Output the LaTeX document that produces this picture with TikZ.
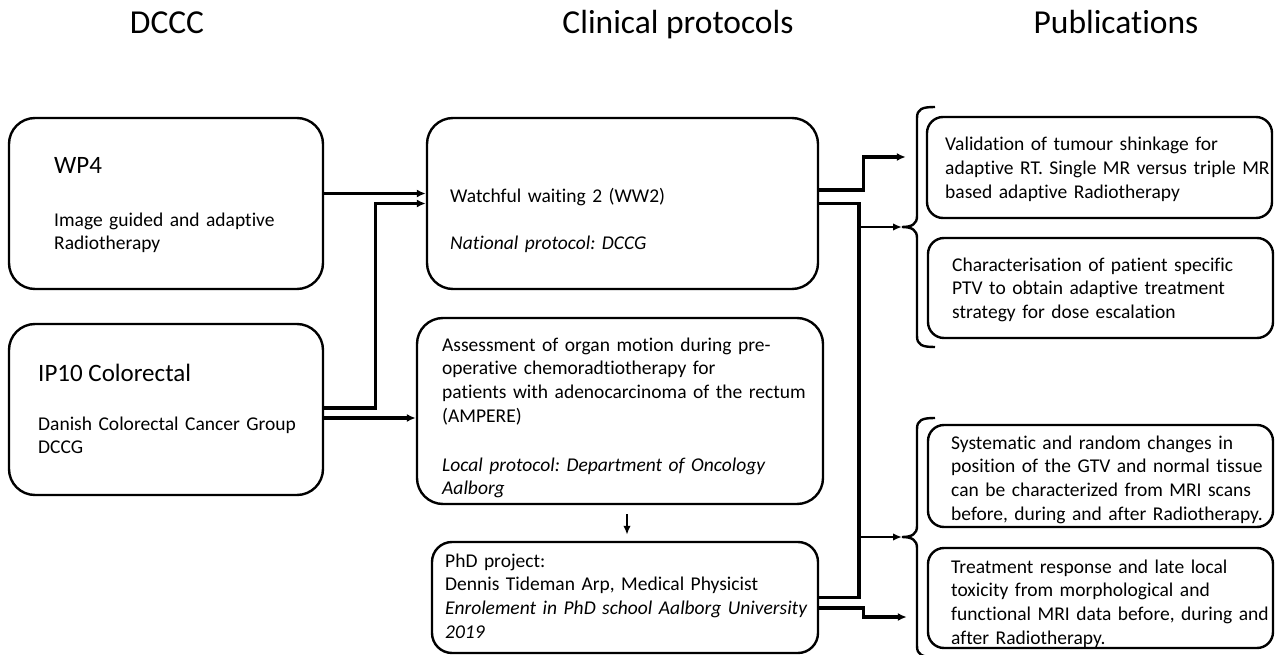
\documentclass[tikz,border=0pt]{standalone}
\usepackage{fontspec}
\setmainfont{Carlito}[Ligatures=NoCommon, Contextuals=NoAlternate]
\usetikzlibrary{arrows.meta, calc}
\frenchspacing

\begin{document}
\begin{tikzpicture}[
    x=1pt, y=-1pt,
    box/.style={draw, line width=2.4pt, rounded corners=26pt, inner sep=0pt},
    pub/.style={draw, line width=2.4pt, rounded corners=16pt, inner sep=0pt},
    txt/.style={anchor=base west, inner sep=0pt, align=left, text width=#1, font=\fontsize{19.5}{23.8}\selectfont},
    txt/.default=345pt,
    head/.style={anchor=base west, inner sep=0pt, font=\fontsize{25}{30}\selectfont},
    ttl/.style={anchor=base, inner sep=0pt, font=\fontsize{33.5}{40}\selectfont},
    conn/.style={line width=3.4pt, -{Latex[length=9pt,width=8pt]}},
    bus/.style={line width=3.6pt},
    thinarr/.style={line width=2pt, -{Latex[length=9pt,width=7.5pt]}},
    brace/.style={line width=2.4pt},
]
\useasboundingbox (0,0) rectangle (1277,655);

% ── Column titles ──
\node[ttl] (tDCCC) at (167,34) {DCCC};
\node[ttl] (tClin) at (678,34) {Clinical protocols};
\node[ttl] (tPub) at (1116,34) {Publications};

% ── DCCC boxes ──
\node[box, minimum width=314pt, minimum height=171pt] (WP4) at (166,203.5) {};
\node[head] (WP4h) at (54,174) {WP4};
\node[txt] (WP4t) at (54,226) {Image guided and adaptive\\Radiotherapy};

\node[box, minimum width=314pt, minimum height=171pt] (IP10) at (166,409.5) {};
\node[head] (IP10h) at (38,381) {IP10 Colorectal};
\node[txt] (IP10t) at (38,430) {Danish Colorectal Cancer Group\\DCCG};

% ── Clinical protocols ──
\node[box, minimum width=391pt, minimum height=171pt] (WW2) at (622.5,203.5) {};
\node[txt] (WW2t) at (450,203) {Watchful waiting 2 (WW2)};
\node[txt] (WW2p) at (450,249) {\textit{National protocol: DCCG}};

\node[box, minimum width=406pt, minimum height=186pt] (AMP) at (620,411) {};
\node[txt=390pt] (AMPt) at (442,351) {Assessment of organ motion during pre-\\operative chemoradtiotherapy for\\patients with adenocarcinoma of the rectum\\(AMPERE)};
\node[txt=390pt] (AMPp) at (442,471) {\textit{Local protocol: Department of Oncology}\\\textit{Aalborg}};

\node[box, rounded corners=20pt, minimum width=386pt, minimum height=111pt] (PhD) at (625,597.5) {};
\node[txt=380pt] (PhDt) at (445,567) {PhD project:\\Dennis Tideman Arp, Medical Physicist\\\textit{Enrolement in PhD school Aalborg University}\\\textit{2019}};

% ── Publications ──
\node[pub, minimum width=345pt, minimum height=101pt] (P1) at (1099.5,167.5) {};
\node[txt] (P1t) at (945,151) {Validation of tumour shinkage for\\adaptive RT. Single MR versus triple MR\\based adaptive Radiotherapy};

\node[pub, minimum width=345pt, minimum height=100pt] (P2) at (1100.5,288) {};
\node[txt] (P2t) at (952,271) {Characterisation of patient specific\\PTV to obtain adaptive treatment\\strategy for dose escalation};

\node[pub, minimum width=345pt, minimum height=102pt] (P3) at (1100.5,476) {};
\node[txt] (P3t) at (951,449) {Systematic and random changes in\\position of the GTV and normal tissue\\can be characterized from MRI scans\\before, during and after Radiotherapy.};

\node[pub, minimum width=345pt, minimum height=100pt] (P4) at (1100.5,598) {};
\node[txt] (P4t) at (951,573) {Treatment response and late local\\toxicity from morphological and\\functional MRI data before, during and\\after Radiotherapy.};

% ── Brackets ──
\coordinate (br1) at (902,227);
\coordinate (br2) at (902,537);
\draw[brace] (935,107) .. controls (922,107) and (917,109) .. (917,118) -- (917,216)
    .. controls (917,224) and (912,227) .. (br1)
    .. controls (912,227) and (917,230) .. (917,238) -- (917,336)
    .. controls (917,345) and (922,347) .. (935,347);
\draw[brace] (935,418) .. controls (922,418) and (917,420) .. (917,429) -- (917,526)
    .. controls (917,534) and (912,537) .. (br2)
    .. controls (912,537) and (917,540) .. (917,548) -- (917,646)
    .. controls (917,655) and (922,657) .. (935,657);

% ── Connectors ──
\coordinate (bustop) at (859,203.5);
\coordinate (busbot) at (859,597.5);

\draw[conn] ([yshift=10pt]WP4.east) -- ([yshift=10pt]WW2.west);
\draw[conn] ([yshift=1.5pt]IP10.east) -- ++(51,0) |- (WW2.west);
\draw[conn] ([yshift=-8.5pt]IP10.east) -- ([yshift=-8.5pt]IP10.east -| AMP.west);
\draw[thinarr, line width=2.6pt] ([xshift=7pt,yshift=-9pt]AMP.south) -- ([xshift=2pt,yshift=6pt]PhD.north);

\draw[conn] ([yshift=13.5pt]WW2.east) -- ++(44,0) |- ([xshift=-20pt,yshift=10.5pt]P1.west);
\draw[bus] (WW2.east) -- (bustop) -- (busbot) -- (PhD.east);
\draw[thinarr] (bustop |- br1) -- (br1);
\draw[thinarr] (bustop |- br2) -- (br2);
\draw[conn] ([yshift=-10.5pt]PhD.east) -- ++(44,0) |- ([xshift=-20pt,yshift=-19pt]P4.west);

\end{tikzpicture}
\end{document}
